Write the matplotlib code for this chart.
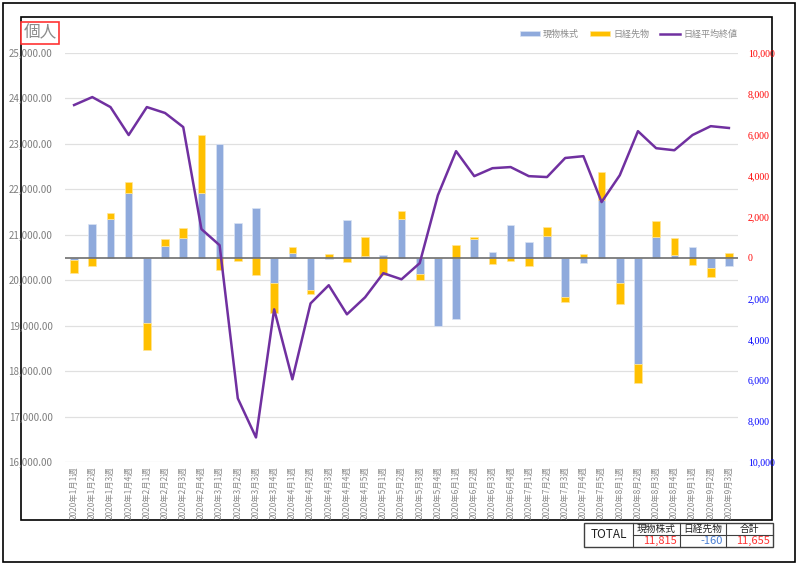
import matplotlib

matplotlib.use("Agg")
import matplotlib.pyplot as plt
import numpy as np
from matplotlib.patches import Rectangle

plt.rcParams["font.family"] = ["Noto Sans CJK JP", "DejaVu Sans"]

# weekly categories: 2020年1月1週 ... 2020年9月3週
months = [1, 2, 3, 4, 5, 6, 7, 8, 9]
weeks_per_month = [4, 4, 4, 5, 4, 4, 5, 4, 3]
labels = [f"2020年{m}月{w}週" for m, n in zip(months, weeks_per_month) for w in range(1, n + 1)]

# 現物株式 (right axis)
spot = [-100, 1630, 1900, 3150, -3180, 540, 960, 3150, 5540, 1680,
        2410, -1250, 210, -1610, -50, 1840, 50, 130, 1870, -800,
        -3330, -3010, 910, 280, 1600, 750, 1050, -1950, -250, 2820,
        -1240, -5210, 1000, 100, 490, -520, -440]
# 日経先物 (right axis)
futures = [-650, -440, 260, 540, -1320, 375, 470, 2850, -600, -150,
           -880, -1450, 280, -180, 150, -230, 950, -880, 410, -290,
           0, 600, 100, -310, -160, -440, 460, -245, 160, 1350,
           -1050, -930, 770, 850, -360, -410, 210]
# 日経平均終値 (left axis)
nikkei = [23855, 24030, 23810, 23195, 23810, 23680, 23370, 21125, 20770, 17400,
          16540, 19360, 17820, 19490, 19890, 19250, 19625, 20155, 20020, 20375,
          21870, 22840, 22290, 22465, 22490, 22290, 22270, 22690, 22730, 21720,
          22310, 23280, 22905, 22860, 23195, 23390, 23350]

totals_header = ["現物株式", "日経先物", "合計"]
totals = [11815, -160, 11655]

BLUE = "#8faadc"
GOLD = "#ffc000"
PURPLE = "#7030a0"

fig = plt.figure(figsize=(8, 5.67), dpi=100)

# frames + table drawn in pixel coordinates
bg = fig.add_axes([0, 0, 1, 1])
bg.set_xlim(0, 800)
bg.set_ylim(567, 0)
bg.axis("off")
bg.add_patch(Rectangle((3, 3), 792, 559, fill=False, ec="black", lw=1.2))
bg.add_patch(Rectangle((21, 17), 751, 503, fill=False, ec="black", lw=1.2))

ax = fig.add_axes([65 / 800, 1 - 462 / 567, 673 / 800, 409 / 567])
ax2 = ax.twinx()
x = np.arange(len(labels))
spot_a = np.array(spot)
fut_a = np.array(futures)
fut_bottom = np.where(np.sign(fut_a) == np.sign(spot_a), spot_a, 0)

for v in range(16000, 25001, 1000):
    ax.axhline((v - 20500) / 4500 * 10000, color="#e0e0e0", lw=0.9, zorder=0)
ax.bar(x, spot_a, width=0.42, color=BLUE, ec="#dae3f3", lw=0.5, zorder=2, label="現物株式")
ax.bar(x, fut_a, width=0.42, bottom=fut_bottom, color=GOLD, ec="#ffe699", lw=0.5, zorder=2, label="日経先物")
ax.axhline(0, color="#6e6e6e", lw=1.2, zorder=3)
ax.set_ylim(-10000, 10000)
ax.set_xlim(-0.5, len(labels) - 0.5)
ax.yaxis.tick_right()
rticks = list(range(-10000, 10001, 2000))
ax.set_yticks(rticks, [f"{abs(t):,}" for t in rticks],
              fontsize=7, family=["Liberation Serif", "DejaVu Serif"])
for t, lab in zip(rticks, ax.get_yticklabels()):
    lab.set_color("#ff0000" if t >= 0 else "#0000ff")
ax.tick_params(axis="y", length=0, pad=7)
ax.set_xticks(x, labels, rotation=90, fontsize=6, color="#8c8c8c")
ax.tick_params(axis="x", length=0, pad=3)
for s in ax.spines.values():
    s.set_visible(False)

ax2.plot(x, nikkei, color=PURPLE, lw=1.8, zorder=4, label="日経平均終値")
ax2.set_ylim(16000, 25000)
ax2.yaxis.tick_left()
lticks = list(range(16000, 25001, 1000))
ax2.set_yticks(lticks, [f"{t:,.2f}" for t in lticks], fontsize=7, color="#7f7f7f")
ax2.tick_params(axis="y", length=0, pad=9)
for s in ax2.spines.values():
    s.set_visible(False)
ax.yaxis.tick_right()

h1, l1 = ax.get_legend_handles_labels()
h2, l2 = ax2.get_legend_handles_labels()
fig.legend(h1 + h2, l1 + l2, loc="center right", bbox_to_anchor=(746 / 800, 1 - 34 / 567),
           ncol=3, frameon=False, fontsize=6.5, labelcolor="#8c8c8c",
           handlelength=2.2, handleheight=0.5, columnspacing=1.2, handletextpad=0.4)

fig.text(40 / 800, 1 - 33 / 567, "個人", ha="center", va="center", fontsize=12, color="#8c8c8c",
         bbox=dict(boxstyle="square,pad=0.15", fc="white", ec="#ff3333", lw=1.2))

# TOTAL table
bg.add_patch(Rectangle((584, 523), 189, 24, fill=True, fc="white", ec="#404040", lw=1))
bg.plot([633, 633], [523, 547], color="#404040", lw=0.8)
bg.plot([633, 773], [534.5, 534.5], color="#404040", lw=0.8)
cols = [633, 679.5, 726, 773]
for i in range(1, 3):
    bg.plot([cols[i], cols[i]], [523, 547], color="#404040", lw=0.8)
bg.text(608.5, 535, "TOTAL", ha="center", va="center", fontsize=8.5, color="#202020")
for i, (h, val) in enumerate(zip(totals_header, totals)):
    cx = (cols[i] + cols[i + 1]) / 2
    bg.text(cx, 528.8, h, ha="center", va="center", fontsize=7, color="#202020")
    bg.text(cols[i + 1] - 3, 541, f"{val:,}", ha="right", va="center", fontsize=8,
            color="#ff3333" if val >= 0 else "#4a7fd4")

fig.savefig("out.png", dpi=100)
